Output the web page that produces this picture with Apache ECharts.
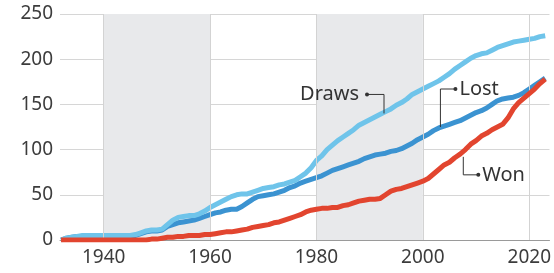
<!DOCTYPE html>
<html>
<head>
<meta charset="utf-8">
<script src="https://cdn.jsdelivr.net/npm/echarts@6/dist/echarts.min.js"></script>
<style>
  html, body { margin: 0; padding: 0; background: #fff; }
  #chart { width: 554px; height: 273px; }
</style>
</head>
<body>
<div id="chart"></div>
<script>
var years = [];
for (var y = 1932; y <= 2023; y++) years.push(y);

var draws = [0,2,3,4,5,5,5,5,5,5,5,5,5,5,6,8,10,11,11,12,17,22,25,26,27,27,29,32,36,39,
  42,45,48,50,51,51,53,55,57,58,59,61,62,64,66,70,74,80,88,93,100,105,110,114,118,122,127,130,133,136,
  139,142,145,149,152,156,161,164,167,170,173,176,180,184,189,193,197,201,204,206,207,210,213,215,217,219,220,221,222,223,
  225,226];
var lost = [0,2,3,4,4,4,4,4,4,4,5,5,5,5,5,7,9,10,10,11,15,17,19,20,21,22,24,26,28,30,
  31,33,34,34,37,41,45,48,49,50,51,53,55,58,60,63,65,67,69,71,74,77,79,81,83,85,87,90,92,94,
  95,96,98,99,101,104,107,111,114,117,121,124,126,128,130,132,135,138,141,143,146,150,154,156,157,158,160,163,167,171,
  175,179];
var won = [0,0,0,0,0,0,0,0,0,0,0,0,0,0,0,0,0,1,1,2,3,3,4,4,5,5,5,6,6,7,
  8,9,9,10,11,12,14,15,16,17,19,20,22,24,26,28,31,33,34,35,35,36,36,38,39,41,43,44,45,45,
  46,50,54,56,57,59,61,63,65,68,73,78,83,86,91,95,100,106,110,115,118,122,125,128,135,145,152,157,162,167,
  173,178];

var xTicks = [1940, 1960, 1980, 2000, 2020];
var yTicks = [0, 50, 100, 150, 200, 250];
var bands = [[1940, 1960], [1980, 2000]];

// label, anchor [year, value], path offsets from anchor, text side
var notes = [
  {text: 'Draws', at: [1992.7, 140], path: [[0, 0], [0, -19], [-17, -19]], side: 'left'},
  {text: 'Lost', at: [2003.3, 125], path: [[0, 0], [0, -38], [15, -38]], side: 'right'},
  {text: 'Won', at: [2007.6, 92], path: [[0, 0], [0, 18], [15, 18]], side: 'right'}
];

var font = '"Noto Sans", "Open Sans", sans-serif';

function pairs(xs, vs) {
  return xs.map(function (x, i) { return [x, vs[i]]; });
}

var myChart = echarts.init(document.getElementById('chart'), null, {renderer: 'canvas'});

var option = {
  animation: false,
  grid: {left: 60, right: 0, top: 14, bottom: 33},
  xAxis: {
    type: 'value',
    min: 1931.8,
    max: 2023.8,
    axisLine: {show: true, lineStyle: {color: '#9a9a9a', width: 1}},
    axisTick: {show: false},
    splitLine: {show: false},
    axisLabel: {
      customValues: xTicks,
      color: '#3c3c3c',
      fontFamily: font,
      fontSize: 19,
      margin: 8,
      formatter: function (v) { return String(v); }
    }
  },
  yAxis: {
    type: 'value',
    min: 0,
    max: 250,
    interval: 50,
    axisLine: {show: false},
    axisTick: {show: false},
    splitLine: {lineStyle: {color: '#d6d6d6', width: 1}},
    axisLabel: {
      color: '#3c3c3c',
      fontFamily: font,
      fontSize: 19,
      margin: 7,
      formatter: function (v) { return yTicks.indexOf(v) >= 0 ? String(v) : ''; }
    }
  },
  series: [
    {
      name: 'Lost',
      type: 'line',
      data: pairs(years, lost),
      showSymbol: false,
      lineStyle: {color: '#3b93d1', width: 5, join: 'round'},
      z: 3,
      markArea: {
        silent: true,
        itemStyle: {color: '#e8e9eb'},
        data: bands.map(function (b) { return [{xAxis: b[0]}, {xAxis: b[1]}]; })
      },
      markLine: {
        silent: true,
        symbol: 'none',
        label: {show: false},
        lineStyle: {color: '#d3d3d3', width: 1, type: 'solid'},
        data: xTicks.map(function (t) { return {xAxis: t}; })
      }
    },
    {
      name: 'Draws',
      type: 'line',
      data: pairs(years, draws),
      showSymbol: false,
      lineStyle: {color: '#6fc4ea', width: 5, join: 'round'},
      z: 4
    },
    {
      name: 'Won',
      type: 'line',
      data: pairs(years, won),
      showSymbol: false,
      lineStyle: {color: '#e2452f', width: 5, join: 'round'},
      z: 5
    }
  ]
};

myChart.setOption(option);

// annotation callouts placed from data coordinates
var elements = [];
notes.forEach(function (n) {
  var p = myChart.convertToPixel({gridIndex: 0}, n.at);
  var pts = n.path.map(function (o) { return [p[0] + o[0], p[1] + o[1]]; });
  var end = pts[pts.length - 1];
  elements.push({
    type: 'polyline',
    shape: {points: pts},
    style: {stroke: '#333', lineWidth: 1, fill: null},
    z: 10
  });
  elements.push({
    type: 'circle',
    shape: {cx: end[0], cy: end[1], r: 2},
    style: {fill: '#333'},
    z: 10
  });
  elements.push({
    type: 'text',
    x: n.side === 'left' ? end[0] - 8 : end[0] + 4,
    y: end[1],
    style: {
      text: n.text,
      fill: '#333',
      font: '20px ' + font,
      align: n.side === 'left' ? 'right' : 'left',
      verticalAlign: 'middle'
    },
    z: 10
  });
});
myChart.setOption({graphic: {elements: elements}});
</script>
</body>
</html>
